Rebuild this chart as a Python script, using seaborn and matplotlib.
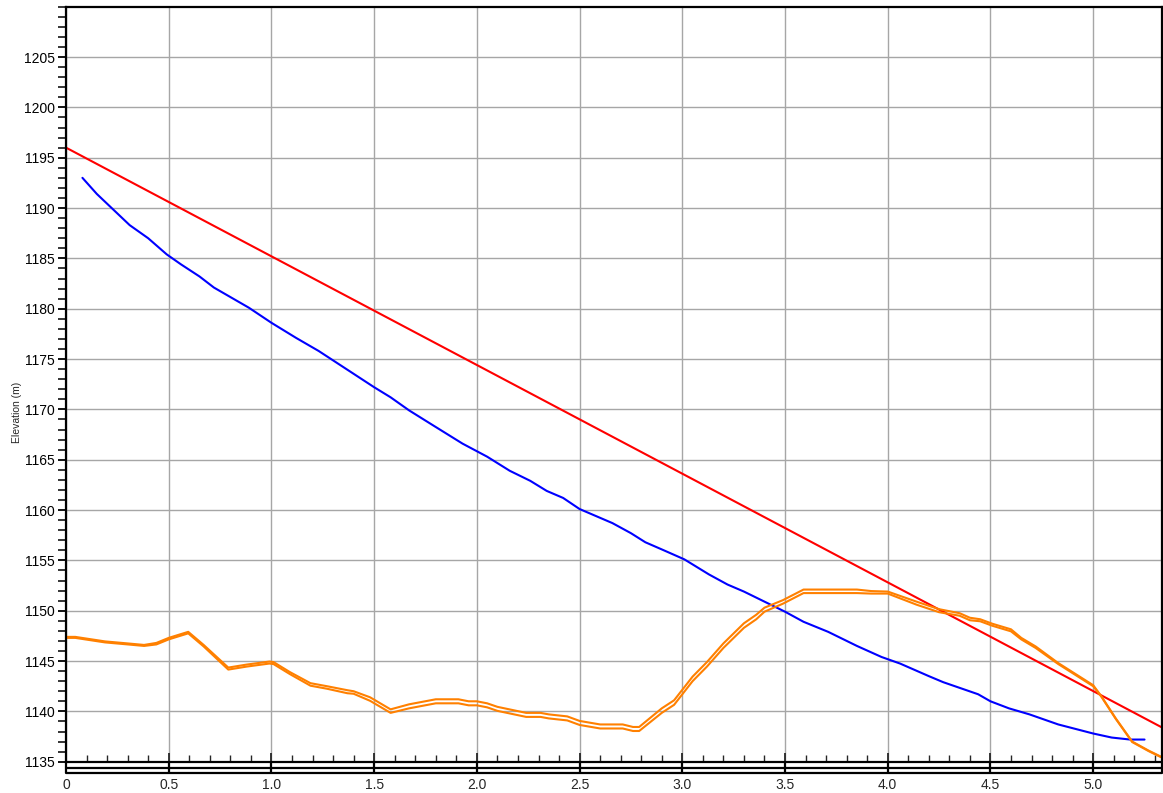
import numpy as np
import pandas as pd
import matplotlib
matplotlib.use("Agg")
import matplotlib.pyplot as plt
import seaborn as sns
from matplotlib.ticker import MultipleLocator, FixedLocator

# ---------------- data ----------------
red_x = [0.0, 5.335]
red_y = [1196.0, 1138.4]

blue_x = [0.08, 0.15, 0.31, 0.40, 0.49, 0.56, 0.65, 0.72, 0.89, 1.00, 1.12, 1.23, 1.32,
          1.50, 1.58, 1.67, 1.78, 1.93, 2.05, 2.16, 2.26, 2.34, 2.42, 2.50, 2.66, 2.75,
          2.82, 2.91, 3.01, 3.13, 3.22, 3.30, 3.50, 3.59, 3.71, 3.85, 3.97, 4.06, 4.20,
          4.27, 4.44, 4.50, 4.59, 4.69, 4.83, 5.00, 5.09, 5.18, 5.25]
blue_y = [1193.0, 1191.4, 1188.3, 1187.0, 1185.4, 1184.4, 1183.2, 1182.1, 1180.1, 1178.6,
          1177.1, 1175.8, 1174.6, 1172.2, 1171.2, 1169.9, 1168.5, 1166.6, 1165.3, 1163.9,
          1162.9, 1161.9, 1161.2, 1160.1, 1158.7, 1157.7, 1156.8, 1156.0, 1155.1, 1153.6,
          1152.6, 1151.9, 1149.9, 1148.9, 1147.9, 1146.5, 1145.4, 1144.75, 1143.5, 1142.9,
          1141.7, 1141.0, 1140.3, 1139.7, 1138.7, 1137.8, 1137.4, 1137.2, 1137.2]

orange_x = [0.00, 0.045, 0.19, 0.30, 0.38, 0.44, 0.50, 0.595, 0.67, 0.79, 0.88, 0.99, 1.01,
            1.09, 1.19, 1.27, 1.37, 1.40, 1.48, 1.58, 1.67, 1.80, 1.91, 1.96, 2.00, 2.05,
            2.10, 2.24, 2.31, 2.35, 2.44, 2.50, 2.60, 2.71, 2.76, 2.79, 2.90, 2.96, 3.05,
            3.12, 3.20, 3.25, 3.30, 3.36, 3.40, 3.49, 3.59, 3.85, 3.92, 4.00, 4.14, 4.25,
            4.35, 4.40, 4.45, 4.51, 4.60, 4.65, 4.72, 4.83, 5.00, 5.04, 5.11, 5.19, 5.27, 5.33]
orange_upper_y = [1147.4, 1147.4, 1146.95, 1146.75, 1146.6, 1146.8, 1147.3, 1147.9, 1146.6,
                  1144.35, 1144.65, 1144.95, 1144.9, 1143.9, 1142.8, 1142.5, 1142.1, 1142.0,
                  1141.4, 1140.2, 1140.7, 1141.2, 1141.2, 1141.0, 1141.0, 1140.8, 1140.45,
                  1139.85, 1139.85, 1139.7, 1139.5, 1139.05, 1138.7, 1138.7, 1138.45, 1138.45,
                  1140.3, 1141.1, 1143.45, 1144.9, 1146.75, 1147.75, 1148.75, 1149.6, 1150.3,
                  1151.05, 1152.1, 1152.1, 1151.95, 1151.9, 1150.9, 1150.15, 1149.75, 1149.3,
                  1149.15, 1148.7, 1148.15, 1147.3, 1146.45, 1144.8, 1142.6, 1141.5, 1139.3,
                  1137.0, 1136.1, 1135.5]
orange_lower_y = [1147.3, 1147.3, 1146.85, 1146.65, 1146.5, 1146.65, 1147.15, 1147.75, 1146.45,
                  1144.15, 1144.45, 1144.75, 1144.7, 1143.7, 1142.55, 1142.25, 1141.8, 1141.75,
                  1141.05, 1139.85, 1140.3, 1140.8, 1140.8, 1140.6, 1140.6, 1140.4, 1140.05,
                  1139.45, 1139.45, 1139.3, 1139.1, 1138.65, 1138.3, 1138.3, 1138.05, 1138.05,
                  1139.85, 1140.65, 1143.0, 1144.45, 1146.3, 1147.3, 1148.3, 1149.15, 1149.9,
                  1150.7, 1151.75, 1151.75, 1151.7, 1151.7, 1150.6, 1149.85, 1149.5, 1149.05,
                  1148.95, 1148.5, 1147.95, 1147.15, 1146.3, 1144.7, 1142.5, 1141.45, 1139.25,
                  1136.95, 1136.05, 1135.45]

x_tick_values = [0, 0.5, 1.0, 1.5, 2.0, 2.5, 3.0, 3.5, 4.0, 4.5, 5.0]
x_tick_labels = ["0", "0.5", "1.0", "1.5", "2.0", "2.5", "3.0", "3.5", "4.0", "4.5", "5.0"]
y_tick_values = list(range(1135, 1210, 5))
y_label = "Elevation (m)"

# ---------------- plot ----------------
sns.set_style("white")
plt.rcParams['font.family'] = ['Liberation Sans', 'DejaVu Sans']

fig = plt.figure(figsize=(11.63, 7.93), dpi=100)
ax = fig.add_axes([66 / 1163, 1 - 761.7 / 793, (1162 - 66) / 1163, (761.7 - 6.7) / 793])

XMIN, XMAX = 0.0, 5.335
YMIN, YMAX = 1135.0, 1210.0
ax.set_xlim(XMIN, XMAX)
ax.set_ylim(YMIN, YMAX)

# grid
ax.set_axisbelow(True)
ax.xaxis.set_major_locator(FixedLocator(x_tick_values))
ax.yaxis.set_major_locator(FixedLocator(y_tick_values))
ax.grid(True, which="major", color="#a6a6a6", linewidth=1.0)

df_red = pd.DataFrame({"x": red_x, "y": red_y})
df_blue = pd.DataFrame({"x": blue_x, "y": blue_y})
df_ou = pd.DataFrame({"x": orange_x, "y": orange_upper_y})
df_ol = pd.DataFrame({"x": orange_x, "y": orange_lower_y})

kw = dict(estimator=None, sort=False, ax=ax, legend=False)
sns.lineplot(data=df_red, x="x", y="y", color="#ff0000", linewidth=1.5, **kw)
sns.lineplot(data=df_blue, x="x", y="y", color="#0000ff", linewidth=1.5, **kw)
sns.lineplot(data=df_ou, x="x", y="y", color="#ff8000", linewidth=1.5, **kw)
sns.lineplot(data=df_ol, x="x", y="y", color="#ff8000", linewidth=1.5, **kw)

ax.set_xlabel("")
ax.set_ylabel(y_label, fontsize=7.5)
ax.yaxis.set_label_coords(-44 / 1096, 0.463)

# spines
for s in ["left", "top", "right", "bottom"]:
    ax.spines[s].set_visible(True)
    ax.spines[s].set_color("black")
    ax.spines[s].set_linewidth(1.6)

# y ticks
ax.yaxis.set_minor_locator(MultipleLocator(1))
ax.tick_params(axis="y", which="major", direction="out", length=6, width=1.3,
               labelsize=10, pad=2, left=True, colors="black")
ax.tick_params(axis="y", which="minor", direction="out", length=6, width=1.3, left=True)
ax.set_yticklabels([str(v) for v in y_tick_values])

# x ticks (pointing up into the plot)
ax.xaxis.set_minor_locator(MultipleLocator(0.1))
ax.set_xticklabels(x_tick_labels)
ax.tick_params(axis="x", which="major", direction="in", length=6.5, width=1.3,
               labelsize=10, pad=12, bottom=True)
ax.tick_params(axis="x", which="minor", direction="in", length=5, width=1.0, bottom=True)

# scale-bar strip below the axis
trans = ax.get_xaxis_transform()
axh_px = 755.0
y1 = -6.3 / axh_px
y2 = -11.3 / axh_px
ax.plot([XMIN, XMAX], [y1, y1], color="black", lw=1.6, transform=trans, clip_on=False)
ax.plot([XMIN, XMAX], [y2, y2], color="black", lw=1.6, transform=trans, clip_on=False)
for xv in x_tick_values + [XMAX]:
    ax.plot([xv, xv], [0, y2], color="black", lw=1.6, transform=trans, clip_on=False,
            solid_capstyle="butt")

fig.savefig("out.png", dpi=100, facecolor="white")
